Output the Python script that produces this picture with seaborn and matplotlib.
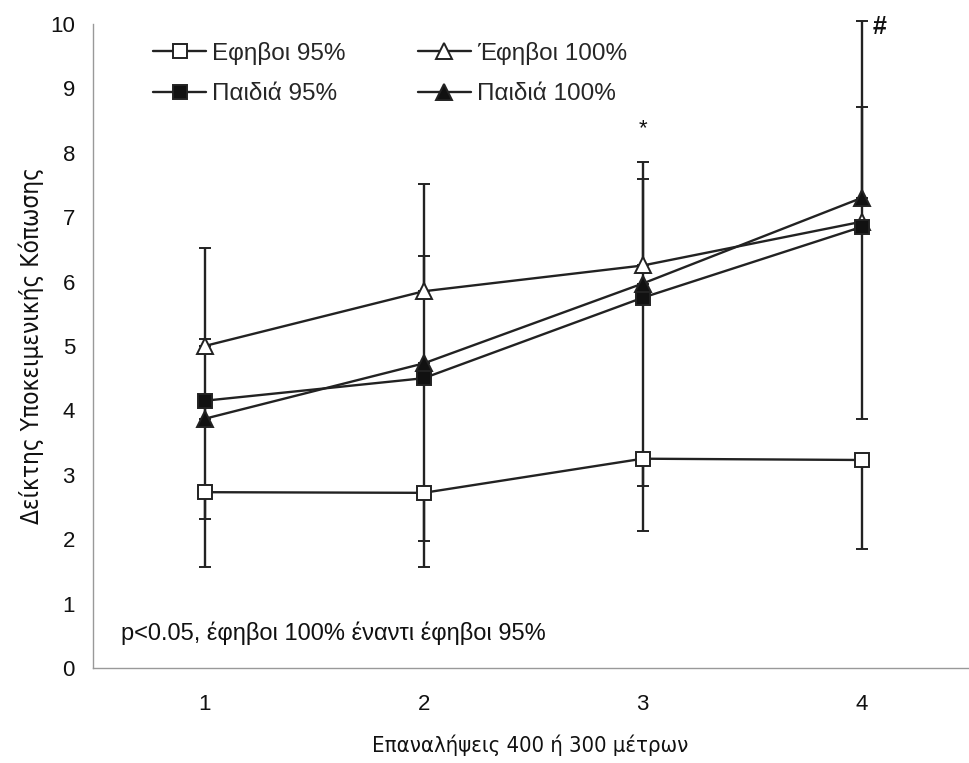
import matplotlib
matplotlib.use("Agg")
import matplotlib.pyplot as plt
import seaborn as sns
import pandas as pd
import numpy as np
from matplotlib.lines import Line2D

# ---- data ----
reps = [1, 2, 3, 4]
series_names = ["Εφηβοι 95%", "Έφηβοι 100%", "Παιδιά 95%", "Παιδιά 100%"]
teen95 = [2.73, 2.72, 3.25, 3.23]
teen100 = [5.00, 5.85, 6.25, 6.93]
kids95 = [4.15, 4.50, 5.75, 6.85]
kids100 = [3.87, 4.73, 5.97, 7.30]
# one-sided error bars (lower, upper)
teen95_err_low = [1.16, 1.15, 1.12, 1.38]
teen95_err_high = [0, 0, 0, 0]
teen100_err_low = [0, 0, 0, 0]
teen100_err_high = [1.52, 1.66, 1.61, 3.12]
kids95_err_low = [1.84, 2.53, 2.92, 2.98]
kids95_err_high = [0, 0, 0, 0]
kids100_err_low = [0, 0, 0, 0]
kids100_err_high = [1.24, 1.67, 1.62, 1.41]
yticks = [0, 1, 2, 3, 4, 5, 6, 7, 8, 9, 10]
xlabel = "Επαναλήψεις 400 ή 300 μέτρων"
ylabel = "Δείκτης Υποκειμενικής Κόπωσης"
note = "p<0.05, έφηβοι 100% έναντι έφηβοι 95%"

values = [teen95, teen100, kids95, kids100]
errs = [(teen95_err_low, teen95_err_high), (teen100_err_low, teen100_err_high),
        (kids95_err_low, kids95_err_high), (kids100_err_low, kids100_err_high)]

df = pd.DataFrame({
    "rep": reps * 4,
    "value": teen95 + teen100 + kids95 + kids100,
    "series": sum([[n] * 4 for n in series_names], []),
})

sns.set_theme(style="white")
plt.rcParams['font.family'] = ['Liberation Sans', 'DejaVu Sans']

fig = plt.figure(figsize=(9.69, 7.63), dpi=100)
W, H = 969, 763
ax = fig.add_axes([93 / W, (763 - 668) / H, (969 - 93) / W, (668 - 24) / H])

line_col = "#222222"
styles = {
    "Εφηβοι 95%": dict(marker="s", markerfacecolor="white", ms=10),
    "Έφηβοι 100%": dict(marker="^", markerfacecolor="white", ms=12),
    "Παιδιά 95%": dict(marker="s", markerfacecolor="#111111", ms=10),
    "Παιδιά 100%": dict(marker="^", markerfacecolor="#111111", ms=12),
}

for name, vals, (lo, hi) in zip(series_names, values, errs):
    ax.errorbar(reps, vals, yerr=[lo, hi], fmt="none", ecolor=line_col,
                elinewidth=1.7, capsize=4.5, capthick=1.4, zorder=2, clip_on=False)

for name in series_names:
    sub = df[df["series"] == name]
    st = styles[name]
    sns.lineplot(data=sub, x="rep", y="value", ax=ax, color=line_col, lw=1.7,
                 marker=st["marker"], markersize=st["ms"],
                 markerfacecolor=st["markerfacecolor"], markeredgecolor=line_col,
                 markeredgewidth=1.4, zorder=3, legend=False, clip_on=False)

ax.set_xlim(0.49, 4.49)
ax.set_ylim(0, 10)
ax.set_yticks(yticks)
ax.set_yticklabels([str(t) for t in yticks], fontsize=16, color="#111111")
ax.set_xticks(reps)
ax.set_xticklabels([str(r) for r in reps], fontsize=16, color="#111111")
ax.set_xticks([1.5, 2.5, 3.5], minor=True)
ax.tick_params(axis="x", which="major", length=0, pad=19)
ax.tick_params(axis="x", which="minor", length=5, width=1, color="#999999", direction="out")
ax.tick_params(axis="y", which="major", length=4, width=1, color="#999999", direction="out", pad=9)
ax.set_xlabel("")
ax.set_ylabel("")

for s in ["top", "right"]:
    ax.spines[s].set_visible(False)
for s in ["left", "bottom"]:
    ax.spines[s].set_color("#999999")
    ax.spines[s].set_linewidth(1.0)

fig.text(530 / W, 1 - 745 / H, xlabel, ha="center", va="center", fontsize=15.8,
         family="DejaVu Sans", fontstretch="condensed", color="#111111")
fig.text(31 / W, 1 - 346 / H, ylabel, ha="center", va="center", rotation=90,
         fontsize=17.5, family="DejaVu Sans", fontstretch="condensed", color="#111111")

ax.text(0.62, 0.54, note, fontsize=17, ha="left", va="center", color="#111111")
ax.text(3.0, 8.38, "*", fontsize=16, ha="center", va="center", color="#111111")
ax.text(4.08, 9.95, "#", fontsize=18, ha="center", va="center", color="#111111",
        fontweight="bold")

handles = []
for name in ["Εφηβοι 95%", "Παιδιά 95%", "Έφηβοι 100%", "Παιδιά 100%"]:
    st = styles[name]
    handles.append(Line2D([], [], color=line_col, lw=1.7, marker=st["marker"],
                          markersize=st["ms"] * 0.95, markerfacecolor=st["markerfacecolor"],
                          markeredgecolor=line_col, markeredgewidth=1.4))
leg = fig.legend(handles, ["Εφηβοι 95%", "Παιδιά 95%", "Έφηβοι 100%", "Παιδιά 100%"],
                 ncol=2, loc="upper left", bbox_to_anchor=(131 / W, 1 - 20 / H),
                 frameon=False, fontsize=17.5, handlelength=2.2, handletextpad=0.25,
                 columnspacing=2.95, labelspacing=0.75)

fig.savefig("out.png", dpi=100)
